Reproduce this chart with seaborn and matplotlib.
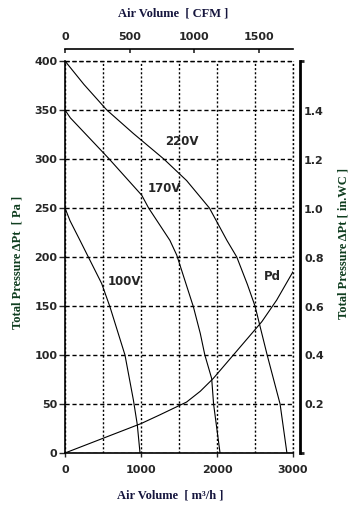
import numpy as np
import pandas as pd
import matplotlib
matplotlib.use("Agg")
import matplotlib.pyplot as plt
import seaborn as sns

# fan curves: air volume [m3/h] vs total pressure [Pa]
v220_flow = [0, 250, 550, 900, 1300, 1600, 1900, 2130, 2260, 2400, 2500, 2660, 2830, 2920]
v220_pa = [400, 376, 350, 326, 300, 278, 250, 217, 200, 172, 150, 100, 50, 0]

v170_flow = [0, 70, 570, 1010, 1100, 1380, 1470, 1690, 1780, 1840, 1930, 1955, 2040]
v170_pa = [350, 342, 301, 263, 250, 217, 202, 149, 122, 100, 76, 50, 0]

v100_flow = [0, 66, 197, 307, 482, 592, 789, 900, 951, 987]
v100_pa = [250, 237, 217, 200, 173, 149, 100, 54, 29, 0]

pd_flow = [0, 500, 1000, 1250, 1600, 1780, 1950, 2215, 2590, 2785, 3000]
pd_pa = [0, 15, 30, 39, 52, 63, 76, 100, 134, 156, 185]

curve_names = ["220V", "170V", "100V", "Pd"]
label_flow = [1535, 1310, 776, 2724]
label_pa = [318, 270, 175, 180]

flow_ticks = [0, 1000, 2000, 3000]
cfm_ticks = [0, 500, 1000, 1500]
pa_ticks = [0, 50, 100, 150, 200, 250, 300, 350, 400]
inwc_ticks = [0.2, 0.4, 0.6, 0.8, 1.0, 1.2, 1.4]

M3H_PER_CFM = 1.699
PA_PER_INWC = 249.09

sns.set_style("white")
plt.rcParams["font.family"] = ["DejaVu Sans"]

tick_font = dict(family="DejaVu Sans", weight="bold", size=8)
curve_font = dict(family="DejaVu Sans", weight="bold", size=8.5)
label_font = dict(family="Liberation Serif", weight="bold", size=9)
vdots = (0, (1.5, 1.5))
hdash = (0, (3, 2))

fig = plt.figure(figsize=(3.52, 5.11), dpi=100)
ax = fig.add_axes([65 / 352, 1 - 453 / 511, 228 / 352, 392 / 511])

curves = [(v220_flow, v220_pa), (v170_flow, v170_pa), (v100_flow, v100_pa), (pd_flow, pd_pa)]
for (fx, fy) in curves:
    sns.lineplot(x=fx, y=fy, ax=ax, color="black", linewidth=0.8, sort=False, zorder=3)

for name, lx, ly in zip(curve_names, label_flow, label_pa):
    ax.text(lx, ly, name, ha="center", va="center", **curve_font)

ax.set_xlim(0, 3000)
ax.set_ylim(0, 400)
ax.set_xticks(flow_ticks)
ax.set_xticks(np.arange(500, 3001, 1000), minor=True)
ax.set_yticks(pa_ticks)
ax.tick_params(axis="x", which="major", direction="out", length=3, width=1, pad=5.5, bottom=True)
ax.tick_params(axis="x", which="minor", length=0)
ax.tick_params(axis="y", direction="out", length=4, width=1, pad=1.5, left=True)

# grid: dotted verticals, dashed horizontals
ax.xaxis.grid(True, which="both", color="black", linewidth=1.0, linestyle=vdots)
ax.yaxis.grid(True, color="black", linewidth=1.0, linestyle=hdash)
ax.set_axisbelow(True)
# edge grid lines drawn unclipped so they are not halved
ax.axvline(3000, color="black", linewidth=1.0, linestyle=vdots, clip_on=False, zorder=1)
ax.axhline(400, color="black", linewidth=1.0, linestyle=hdash, clip_on=False, zorder=1)

for s in ["top", "right"]:
    ax.spines[s].set_visible(False)
for s in ["left", "bottom"]:
    ax.spines[s].set_color("black")
    ax.spines[s].set_linewidth(1.2)

# top axis in CFM
ax_top = ax.twiny()
ax_top.set_xlim(0, 3000 / M3H_PER_CFM)
ax_top.set_xticks(cfm_ticks)
for s in ["bottom", "left", "right"]:
    ax_top.spines[s].set_visible(False)
ax_top.spines["top"].set_position(("outward", 9))
ax_top.spines["top"].set_linewidth(1.2)
ax_top.spines["top"].set_color("black")
ax_top.tick_params(axis="x", direction="in", length=3, width=1.2, pad=5, top=True)

# right axis in in.WC
ax_r = ax.twinx()
ax_r.set_ylim(0, 400 / PA_PER_INWC)
ax_r.set_yticks(inwc_ticks)
ax_r.set_yticks([0, 400 / PA_PER_INWC], minor=True)
for s in ["bottom", "left", "top"]:
    ax_r.spines[s].set_visible(False)
ax_r.spines["right"].set_position(("outward", 5))
ax_r.spines["right"].set_linewidth(2)
ax_r.spines["right"].set_color("black")
ax_r.tick_params(axis="y", which="major", length=0, pad=3, right=True)
ax_r.tick_params(axis="y", which="minor", direction="out", length=3, width=2, right=True)

ax.set_xticklabels([str(t) for t in flow_ticks])
ax.set_yticklabels([str(t) for t in pa_ticks])
ax_top.set_xticklabels([str(t) for t in cfm_ticks])
ax_r.set_yticklabels([f"{t:.1f}" for t in inwc_ticks])
for a in [ax, ax_top, ax_r]:
    for lab in a.get_xticklabels() + a.get_yticklabels():
        lab.set_fontfamily(tick_font["family"])
        lab.set_fontweight(tick_font["weight"])
        lab.set_fontsize(tick_font["size"])

fig.text(173 / 352, 1 - 13 / 511, "Air Volume  [ CFM ]", ha="center", va="center",
         color="#15153d", **label_font)
fig.text(170 / 352, 1 - 495 / 511, "Air Volume  [ m³/h ]", ha="center", va="center",
         color="#15153d", **label_font)
fig.text(18 / 352, 1 - 262 / 511, "Total Pressure ΔPt  [ Pa ]", ha="center", va="center",
         rotation=90, color="#0f3d1f", **label_font)
fig.text(344 / 352, 1 - 243 / 511, "Total Pressure ΔPt [ in.WC ]", ha="center", va="center",
         rotation=90, color="#0f3d1f", **label_font)

fig.savefig("out.png", dpi=100, facecolor="white")
